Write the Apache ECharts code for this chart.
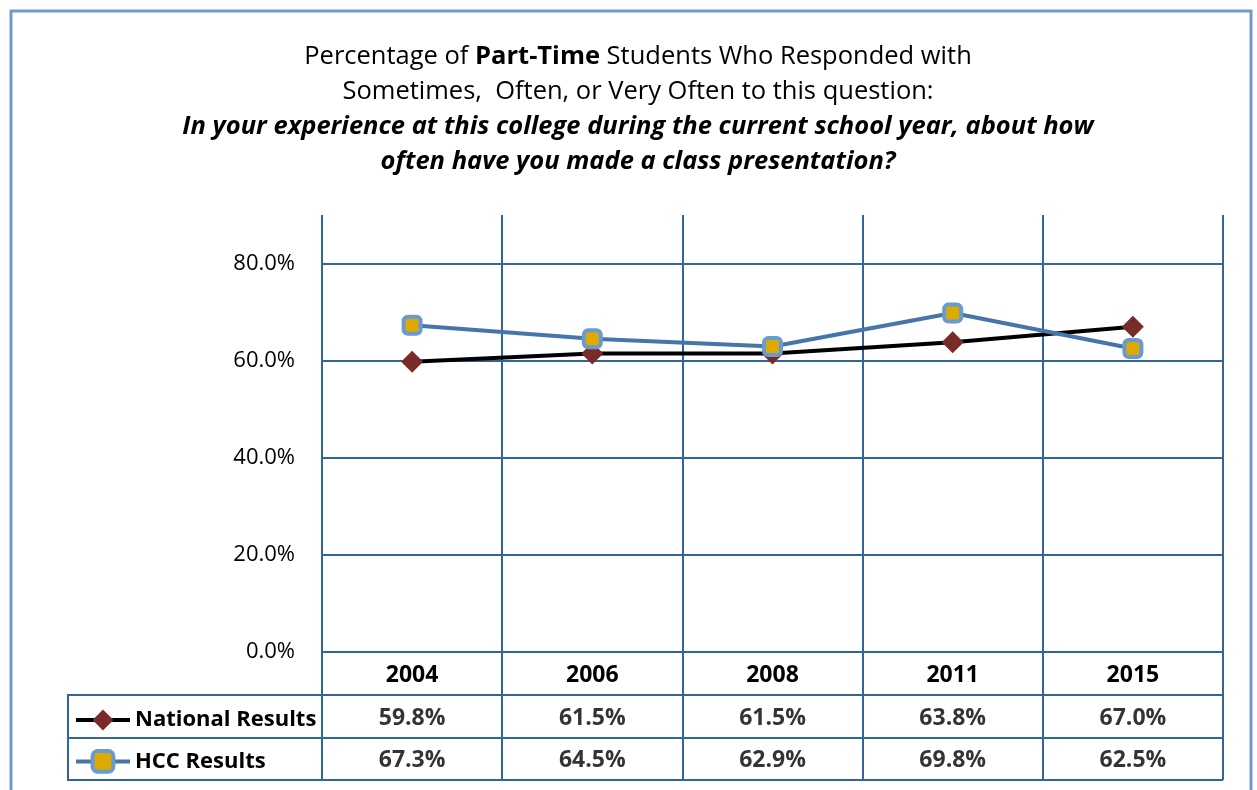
<!DOCTYPE html>
<html><head><meta charset="utf-8">
<script src="https://cdn.jsdelivr.net/npm/echarts@6/dist/echarts.min.js"></script>
<style>html,body{margin:0;padding:0;background:#fff}#c{width:1257px;height:790px}</style>
</head><body><div id="c"></div>
<script>
const years = ['2004', '2006', '2008', '2011', '2015'];
const nationalResults = [59.8, 61.5, 61.5, 63.8, 67.0];
const hccResults = [67.3, 64.5, 62.9, 69.8, 62.5];
const rowNames = ['', 'National Results', 'HCC Results'];
const yTicks = [0, 20, 40, 60, 80];

const FONT = '"Open Sans", sans-serif';
const GRID = '#31659c';
const chart = echarts.init(document.getElementById('c'), null, {renderer: 'canvas'});

const tableData = [];
years.forEach((y, i) => {
  tableData.push([y, rowNames[1], nationalResults[i]]);
  tableData.push([y, rowNames[2], hccResults[i]]);
});

const natItem = {color: '#772c2a', borderColor: '#772c2a', borderWidth: 0};
const hccItem = {color: '#dcaa00', borderColor: '#6a9bd0', borderWidth: 4};

chart.setOption({
  animation: false,
  backgroundColor: '#fff',
  title: {
    left: 633, top: 34, textAlign: 'center',
    text: '{n|Percentage of }{b|Part-Time}{n| Students Who Responded with}\n{n|Sometimes,  Often, or Very Often to this question:}\n{bi|In your experience at this college during the current school year, about how}\n{bi|often have you made a class presentation?}',
    textStyle: {
      fontWeight: 'normal', fontFamily: FONT, fontSize: 25.5,
      rich: {
        n: {fontFamily: FONT, fontSize: 25.5, fontWeight: 'normal', color: '#000', lineHeight: 35},
        b: {fontFamily: FONT, fontSize: 25.5, fontWeight: 'bold', color: '#000', lineHeight: 35},
        bi: {fontFamily: FONT, fontSize: 25.5, fontWeight: 'bold', fontStyle: 'italic', color: '#000', lineHeight: 35}
      }
    }
  },
  legend: {
    data: [
      {name: 'National Results', itemStyle: natItem, lineStyle: {color: '#000', width: 4}},
      {name: 'HCC Results', itemStyle: hccItem, lineStyle: {color: '#4675aa', width: 4}}
    ],
    orient: 'vertical', left: 69, top: 704,
    itemWidth: 54, itemHeight: 26, itemGap: 18,
    textStyle: {fontFamily: FONT, fontSize: 22, fontWeight: 'bold', color: '#000'},
    selectedMode: false
  },
  graphic: [
    {type: 'rect', shape: {x: 11, y: 11, width: 1240, height: 800}, style: {fill: 'none', stroke: '#6c9bd0', lineWidth: 3}, z: 100},
    {type: 'rect', shape: {x: 68, y: 695, width: 254, height: 85}, style: {fill: 'none', stroke: GRID, lineWidth: 2}, z: 1},
    {type: 'line', shape: {x1: 68, y1: 738, x2: 322, y2: 738}, style: {stroke: GRID, lineWidth: 2}, z: 1}
  ],
  grid: [
    {left: 322, right: 34, top: 215, height: 437},
    {left: 322, right: 34, top: 652, bottom: 10}
  ],
  xAxis: [
    {type: 'category', gridIndex: 0, data: years, boundaryGap: true,
     axisLine: {show: false}, axisTick: {show: false},
     axisLabel: {fontFamily: FONT, fontSize: 23, fontWeight: 'bold', color: '#000', margin: 12},
     splitLine: {show: true, lineStyle: {color: GRID, width: 2}}},
    {type: 'category', gridIndex: 1, data: years, boundaryGap: true,
     axisLine: {show: false}, axisTick: {show: false}, axisLabel: {show: false},
     splitLine: {show: true, lineStyle: {color: GRID, width: 2}}}
  ],
  yAxis: [
    {type: 'value', gridIndex: 0, min: 0, max: 90, interval: 20,
     axisLine: {show: false}, axisTick: {show: false},
     axisLabel: {fontFamily: FONT, fontSize: 22, color: '#000', margin: 27,
       formatter: v => yTicks.indexOf(v) >= 0 ? v.toFixed(1) + '%' : ''},
     splitLine: {show: true, lineStyle: {color: [GRID, GRID, GRID, GRID, GRID, 'rgba(0,0,0,0)'], width: 2}}},
    {type: 'category', gridIndex: 1, data: rowNames, inverse: true, boundaryGap: true,
     axisLine: {show: false}, axisTick: {show: false}, axisLabel: {show: false},
     splitLine: {show: true, lineStyle: {color: GRID, width: 2}}}
  ],
  series: [
    {name: 'National Results', type: 'line', xAxisIndex: 0, yAxisIndex: 0, data: nationalResults,
     lineStyle: {color: '#000', width: 4}, symbol: 'diamond', symbolSize: 22,
     itemStyle: natItem, z: 3},
    {name: 'HCC Results', type: 'line', xAxisIndex: 0, yAxisIndex: 0, data: hccResults,
     lineStyle: {color: '#4675aa', width: 4}, symbol: 'roundRect', symbolSize: 17,
     itemStyle: hccItem, z: 4},
    {name: 'table', type: 'scatter', xAxisIndex: 1, yAxisIndex: 1, data: tableData,
     symbolSize: 1, itemStyle: {color: 'rgba(0,0,0,0)'},
     label: {show: true, position: 'inside', offset: [0, 2], fontFamily: FONT, fontSize: 23, fontWeight: 'bold', color: '#000',
       formatter: p => p.value[2].toFixed(1) + '%'}}
  ]
});
</script></body></html>
